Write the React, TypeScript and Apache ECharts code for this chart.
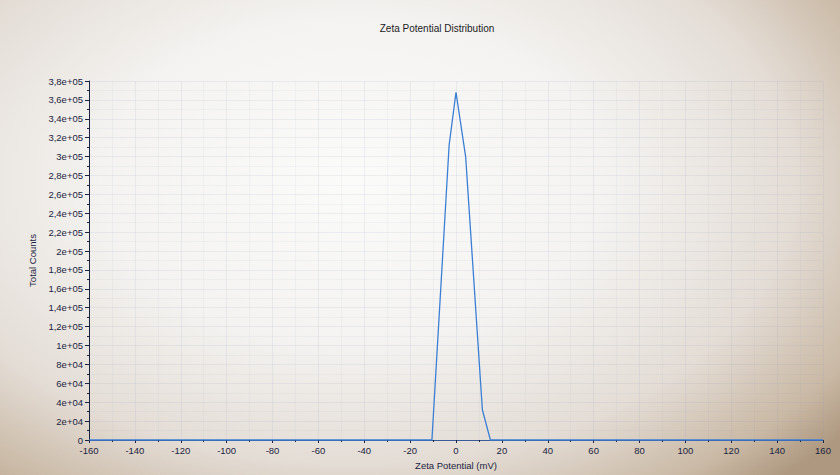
import React, { useEffect, useRef } from "react";
import * as echarts from "echarts";

const title = "Zeta Potential Distribution";
const xName = "Zeta Potential (mV)";
const yName = "Total Counts";
const zeta = [-160, -10.5, -3, 0, 4.2, 11.5, 15, 160];
const counts = [0, 0, 312000, 368000, 300000, 32000, 0, 0];

function fmtY(v: number): string {
  if (v === 0) return "0";
  const e = Math.floor(Math.log10(v) + 1e-9);
  const m = Math.round((v / Math.pow(10, e)) * 10) / 10;
  const ms = String(m).replace(".", ",");
  const es = (e < 10 ? "0" : "") + e;
  return ms + "e+" + es;
}

export default function App() {
  const ref = useRef<HTMLDivElement>(null);
  useEffect(() => {
    if (!ref.current) return;
    const chart = echarts.init(ref.current, null, { renderer: "svg" });
    const font = "Liberation Sans";
    const ink = "#1c2440";
    chart.setOption({
      animation: false,
      backgroundColor: "transparent",
      title: {
        text: title,
        left: 432,
        textAlign: "center",
        top: 18,
        textStyle: { fontSize: 10, fontWeight: "normal", color: "#1a1a22", fontFamily: font },
      },
      grid: { left: 89, right: 17, top: 81, bottom: 35 },
      xAxis: {
        type: "value",
        min: -160,
        max: 160,
        interval: 20,
        name: xName,
        nameLocation: "middle",
        nameGap: 20,
        nameTextStyle: { fontSize: 9.5, color: ink, fontFamily: font },
        axisLine: { show: true, onZero: false, lineStyle: { color: "#3a5a9a", width: 1 } },
        axisTick: { show: true, length: 3, lineStyle: { color: ink } },
        minorTick: { show: true, splitNumber: 2, length: 2, lineStyle: { color: ink } },
        axisLabel: { fontSize: 9.5, color: ink, fontFamily: font, margin: 5 },
        splitLine: { show: true, lineStyle: { color: "rgba(140,150,190,0.12)", width: 1 } },
        minorSplitLine: { show: true, lineStyle: { color: "rgba(140,150,190,0.07)", width: 1 } },
      },
      yAxis: {
        type: "value",
        min: 0,
        max: 380000,
        interval: 20000,
        name: yName,
        nameLocation: "middle",
        nameGap: 43,
        nameTextStyle: { fontSize: 9.5, color: ink, fontFamily: font },
        axisLine: { show: true, onZero: false, lineStyle: { color: ink, width: 1 } },
        axisTick: { show: true, length: 4, lineStyle: { color: ink } },
        minorTick: { show: true, splitNumber: 2, length: 2, lineStyle: { color: ink } },
        axisLabel: { fontSize: 9.5, color: ink, fontFamily: font, margin: 6, formatter: fmtY },
        splitLine: { show: true, lineStyle: { color: "rgba(140,150,190,0.12)", width: 1 } },
        minorSplitLine: { show: true, lineStyle: { color: "rgba(140,150,190,0.07)", width: 1 } },
      },
      series: [
        {
          type: "line",
          data: zeta.map((x, i) => [x, counts[i]]),
          showSymbol: false,
          symbol: "none",
          lineStyle: { color: "#3b7fd4", width: 1.3 },
          itemStyle: { color: "#3b7fd4" },
        },
      ],
    });
    return () => chart.dispose();
  }, []);
  return (
    <div
      style={{
        position: "absolute",
        left: 0,
        top: 0,
        width: 840,
        height: 475,
        background:
          "radial-gradient(ellipse 75% 85% at 42% 38%, #fbfbfa 0%, #f4f3f1 40%, #e4ddd6 70%, #c9b8a4 90%, #ae9880 100%)",
      }}
    >
      <div ref={ref} style={{ width: 840, height: 475 }} />
    </div>
  );
}
